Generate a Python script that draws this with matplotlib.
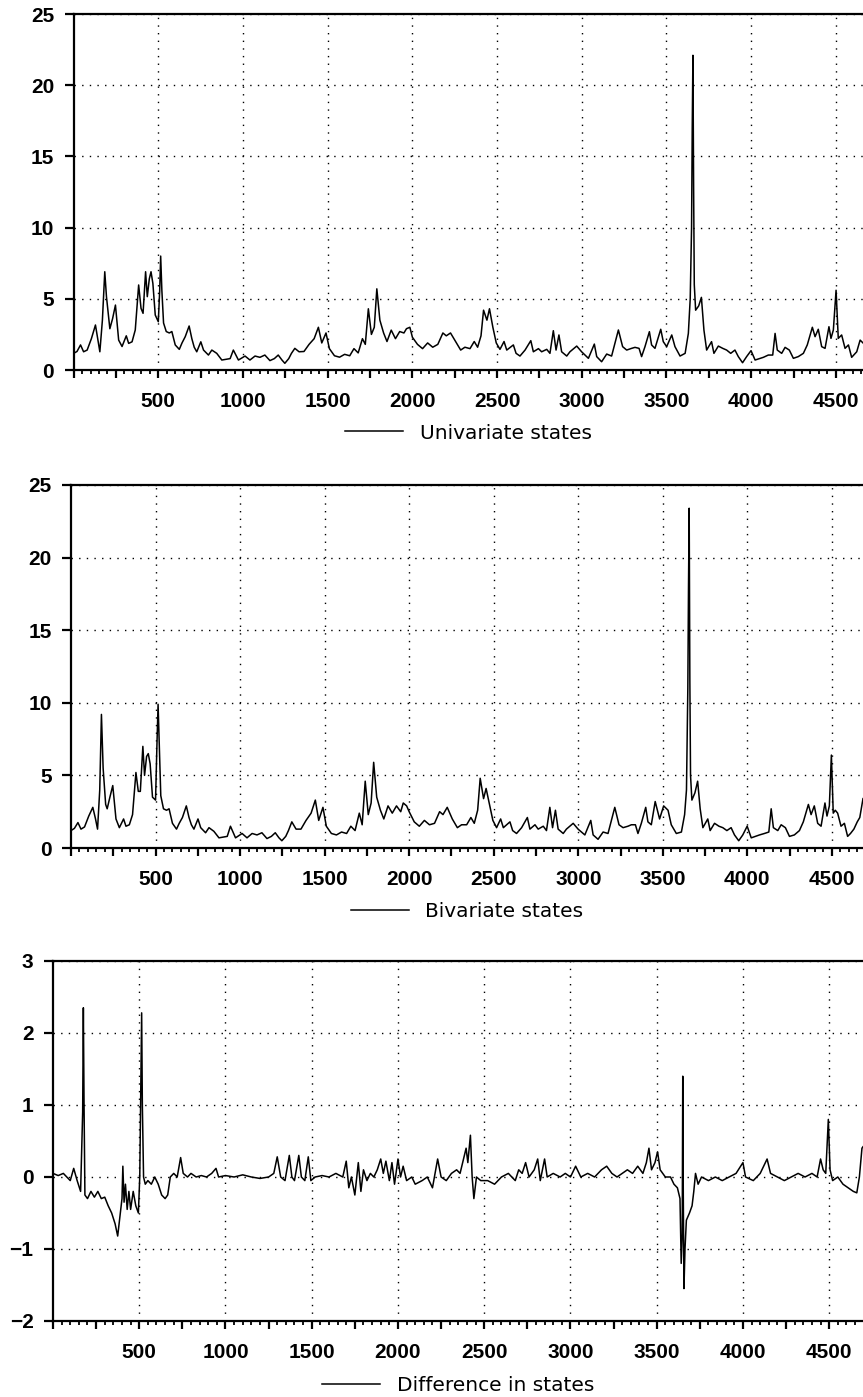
import numpy as np
import matplotlib
matplotlib.use("Agg")
import matplotlib.pyplot as plt
from matplotlib.ticker import MultipleLocator, FuncFormatter

# ─────────────────────────────────────────
# data read off the reference (x = observation, y = value)
# ─────────────────────────────────────────

uni_x = [0, 20, 41, 59, 80, 105, 129, 145, 155, 170, 184, 194, 214, 230, 247, 266, 286, 311, 325, 345,
         364, 384, 398, 410, 425, 435, 447, 457, 468, 482, 500, 508, 514, 521, 531, 547, 565, 580, 600, 624,
         640, 659, 682, 698, 712, 727, 751, 767, 796, 816, 845, 875, 900, 924, 943, 973, 1012, 1041, 1071, 1100,
         1129, 1159, 1185, 1208, 1230, 1247, 1270, 1286, 1306, 1331, 1360, 1390, 1420, 1445, 1465, 1490, 1510, 1540, 1570, 1600,
         1630, 1655, 1680, 1705, 1722, 1740, 1758, 1775, 1790, 1808, 1830, 1850, 1875, 1900, 1925, 1950, 1965, 1985, 2000, 2030,
         2060, 2090, 2120, 2150, 2180, 2200, 2225, 2255, 2285, 2310, 2340, 2365, 2385, 2405, 2420, 2440, 2455, 2475, 2495, 2517,
         2541, 2557, 2596, 2612, 2635, 2665, 2699, 2714, 2744, 2763, 2793, 2812, 2832, 2848, 2865, 2881, 2911, 2930, 2970, 2999,
         3039, 3074, 3088, 3117, 3147, 3176, 3216, 3241, 3265, 3294, 3314, 3338, 3353, 3373, 3399, 3412, 3432, 3466, 3481, 3501,
         3531, 3550, 3580, 3610, 3629, 3640, 3648, 3652, 3656, 3660, 3664, 3672, 3690, 3706, 3721, 3737, 3766, 3780, 3806, 3832,
         3855, 3879, 3904, 3924, 3949, 3973, 3999, 4023, 4072, 4101, 4127, 4141, 4154, 4180, 4200, 4225, 4249, 4278, 4308, 4331,
         4361, 4377, 4396, 4416, 4436, 4459, 4471, 4485, 4501, 4514, 4534, 4554, 4574, 4593, 4623, 4643, 4660]
uni_y = [1.17, 1.3, 1.76, 1.28, 1.4, 2.2, 3.16, 2.0, 1.28, 3.5, 6.9, 5.15, 2.9, 3.6, 4.56, 2.1, 1.65, 2.4, 1.87, 1.98,
         2.81, 5.97, 4.33, 3.98, 6.9, 5.15, 6.4, 6.9, 6.08, 3.86, 3.39, 5.5, 8.0, 5.6, 3.3, 2.7, 2.6, 2.7, 1.76, 1.45,
         1.9, 2.34, 3.09, 2.2, 1.6, 1.28, 1.98, 1.4, 1.05, 1.4, 1.17, 0.7, 0.75, 0.8, 1.4, 0.7, 0.98, 0.7, 0.98, 0.89,
         1.05, 0.66, 0.8, 1.05, 0.7, 0.47, 0.8, 1.17, 1.52, 1.28, 1.3, 1.8, 2.2, 3.0, 1.9, 2.6, 1.5, 1.0, 0.9, 1.1,
         1.0, 1.5, 1.2, 2.2, 1.8, 4.3, 2.5, 3.0, 5.7, 3.5, 2.6, 2.0, 2.8, 2.2, 2.7, 2.6, 2.9, 3.0, 2.3, 1.8,
         1.5, 1.9, 1.6, 1.8, 2.6, 2.4, 2.6, 2.0, 1.4, 1.6, 1.5, 2.0, 1.6, 2.4, 4.2, 3.5, 4.3, 3.0, 1.9, 1.45,
         2.0, 1.4, 1.76, 1.17, 0.98, 1.4, 2.06, 1.28, 1.5, 1.28, 1.45, 1.17, 2.76, 1.4, 2.46, 1.28, 0.98, 1.28, 1.68, 1.28,
         0.82, 1.82, 0.94, 0.58, 1.12, 0.98, 2.81, 1.64, 1.4, 1.52, 1.59, 1.52, 0.94, 1.64, 2.69, 1.76, 1.52, 2.86, 1.99, 1.64,
         2.46, 1.64, 0.98, 1.17, 2.57, 5.0, 10.0, 17.0, 22.1, 13.0, 6.0, 4.2, 4.5, 5.1, 2.8, 1.4, 1.99, 1.17, 1.68, 1.52,
         1.4, 1.17, 1.4, 0.94, 0.51, 0.94, 1.36, 0.7, 0.89, 1.05, 1.05, 2.57, 1.4, 1.17, 1.59, 1.4, 0.82, 0.94, 1.17, 1.76,
         3.0, 2.34, 2.86, 1.64, 1.52, 3.04, 2.22, 2.81, 5.6, 2.22, 2.46, 1.52, 1.76, 0.89, 1.28, 2.1, 1.9]

biv_x = [0, 20, 41, 59, 80, 105, 129, 145, 157, 170, 180, 190, 205, 214, 230, 247, 266, 286, 311, 325,
         345, 364, 384, 398, 410, 425, 435, 447, 457, 468, 482, 500, 508, 515, 521, 531, 547, 565, 580, 600,
         624, 640, 659, 682, 698, 712, 727, 751, 767, 796, 816, 845, 875, 900, 924, 943, 973, 1012, 1041, 1071,
         1100, 1129, 1159, 1185, 1208, 1230, 1247, 1270, 1286, 1306, 1331, 1360, 1390, 1420, 1445, 1465, 1490, 1510, 1540, 1570,
         1600, 1630, 1655, 1680, 1705, 1722, 1740, 1758, 1775, 1790, 1808, 1830, 1850, 1875, 1900, 1925, 1950, 1965, 1985, 2000,
         2030, 2060, 2090, 2120, 2150, 2180, 2200, 2225, 2255, 2285, 2310, 2340, 2365, 2385, 2405, 2420, 2440, 2455, 2475, 2495,
         2517, 2541, 2557, 2596, 2612, 2635, 2665, 2699, 2714, 2744, 2763, 2793, 2812, 2832, 2848, 2865, 2881, 2911, 2930, 2970,
         2999, 3039, 3074, 3088, 3117, 3147, 3176, 3216, 3241, 3265, 3294, 3314, 3338, 3353, 3373, 3399, 3412, 3432, 3455, 3481,
         3505, 3531, 3550, 3580, 3610, 3629, 3640, 3648, 3652, 3656, 3660, 3664, 3672, 3690, 3706, 3721, 3737, 3766, 3780, 3806,
         3832, 3855, 3879, 3904, 3924, 3949, 3973, 3999, 4023, 4072, 4101, 4127, 4141, 4154, 4180, 4200, 4225, 4249, 4278, 4308,
         4331, 4361, 4377, 4396, 4416, 4436, 4459, 4471, 4485, 4497, 4508, 4520, 4534, 4554, 4574, 4593, 4610, 4630, 4650, 4665,
         4684]
biv_y = [1.2, 1.35, 1.75, 1.3, 1.45, 2.2, 2.8, 2.0, 1.3, 4.0, 9.2, 5.5, 3.0, 2.7, 3.5, 4.3, 2.0, 1.4, 2.0, 1.5,
         1.6, 2.3, 5.2, 3.9, 3.9, 7.0, 5.0, 6.3, 6.5, 5.8, 3.5, 3.3, 7.0, 9.9, 7.5, 3.6, 2.7, 2.6, 2.7, 1.7,
         1.3, 1.7, 2.1, 2.9, 2.1, 1.6, 1.3, 2.0, 1.4, 1.05, 1.4, 1.15, 0.7, 0.75, 0.8, 1.5, 0.7, 1.0, 0.7, 1.0,
         0.9, 1.05, 0.65, 0.8, 1.05, 0.7, 0.5, 0.8, 1.2, 1.8, 1.3, 1.3, 1.9, 2.4, 3.3, 1.9, 2.8, 1.5, 1.0, 0.9,
         1.1, 1.0, 1.5, 1.2, 2.4, 1.6, 4.6, 2.3, 3.1, 5.9, 3.5, 2.6, 2.0, 2.9, 2.4, 2.9, 2.5, 3.1, 2.9, 2.5,
         1.8, 1.5, 1.9, 1.6, 1.7, 2.5, 2.3, 2.8, 2.0, 1.4, 1.6, 1.6, 2.1, 1.7, 2.6, 4.8, 3.4, 4.1, 3.0, 1.9,
         1.4, 2.0, 1.4, 1.8, 1.2, 1.0, 1.4, 2.1, 1.3, 1.6, 1.3, 1.5, 1.2, 2.8, 1.4, 2.6, 1.3, 1.0, 1.3, 1.7,
         1.3, 0.9, 1.9, 0.9, 0.6, 1.1, 1.0, 2.8, 1.6, 1.4, 1.5, 1.6, 1.6, 1.0, 1.7, 2.8, 1.8, 1.6, 3.2, 2.0,
         2.9, 2.6, 1.6, 1.0, 1.1, 2.3, 4.0, 11.0, 18.0, 23.4, 11.5, 5.0, 3.3, 3.8, 4.6, 2.7, 1.4, 2.0, 1.2, 1.7,
         1.5, 1.4, 1.2, 1.4, 0.9, 0.5, 0.9, 1.5, 0.7, 0.9, 1.0, 1.1, 2.7, 1.4, 1.2, 1.6, 1.4, 0.8, 0.9, 1.2,
         1.8, 3.0, 2.3, 2.9, 1.7, 1.5, 3.1, 2.2, 2.9, 6.4, 2.4, 2.6, 2.4, 1.5, 1.7, 0.8, 1.0, 1.3, 1.8, 2.1,
         3.4]

dif_x = [0, 30, 60, 80, 100, 120, 140, 160, 172, 176, 180, 185, 200, 220, 240, 260, 280, 300, 320, 340,
         360, 375, 390, 400, 405, 412, 420, 430, 440, 450, 465, 480, 495, 503, 510, 514, 518, 525, 535, 550,
         570, 590, 610, 630, 650, 665, 680, 700, 720, 740, 755, 780, 800, 830, 860, 890, 920, 945, 960, 1000,
         1050, 1100, 1150, 1200, 1250, 1280, 1300, 1320, 1345, 1370, 1385, 1400, 1425, 1440, 1460, 1480, 1495, 1520, 1560, 1600,
         1640, 1680, 1700, 1715, 1730, 1750, 1770, 1785, 1800, 1820, 1840, 1860, 1880, 1900, 1915, 1930, 1950, 1965, 1980, 2000,
         2015, 2030, 2050, 2080, 2100, 2140, 2170, 2200, 2230, 2250, 2280, 2310, 2340, 2360, 2380, 2395, 2405, 2420, 2430, 2440,
         2455, 2480, 2520, 2560, 2600, 2640, 2680, 2700, 2720, 2740, 2760, 2790, 2810, 2825, 2850, 2865, 2900, 2940, 2970, 3000,
         3030, 3060, 3100, 3140, 3180, 3210, 3240, 3270, 3300, 3330, 3360, 3390, 3420, 3440, 3455, 3470, 3490, 3505, 3520, 3550,
         3580, 3600, 3620, 3635, 3642, 3648, 3651, 3654, 3658, 3664, 3672, 3690, 3705, 3715, 3725, 3740, 3760, 3800, 3840, 3880,
         3920, 3960, 4000, 4015, 4060, 4100, 4140, 4160, 4200, 4240, 4280, 4320, 4360, 4400, 4430, 4450, 4465, 4480, 4495, 4505,
         4520, 4550, 4580, 4610, 4640, 4660, 4675, 4690, 4696]
dif_y = [0.05, 0.02, 0.05, 0.0, -0.05, 0.12, -0.05, -0.2, 0.9, 2.35, 1.0, -0.25, -0.3, -0.2, -0.28, -0.2, -0.3, -0.28, -0.4, -0.5,
         -0.65, -0.82, -0.5, -0.3, 0.15, -0.35, -0.1, -0.45, -0.2, -0.45, -0.2, -0.4, -0.5, 0.0, 1.5, 2.28, 1.0, 0.0, -0.1, -0.05,
         -0.1, 0.0, -0.1, -0.25, -0.3, -0.25, 0.0, 0.05, 0.0, 0.27, 0.05, 0.0, 0.05, 0.0, 0.02, 0.0, 0.05, 0.12, 0.0, 0.02,
         0.0, 0.03, 0.0, -0.02, 0.0, 0.05, 0.28, 0.0, -0.05, 0.3, 0.0, -0.05, 0.3, 0.0, -0.05, 0.28, -0.05, 0.0, 0.02, 0.0,
         0.05, 0.0, 0.22, -0.15, 0.0, -0.25, 0.2, -0.2, 0.1, -0.05, 0.05, 0.0, 0.1, 0.25, 0.05, 0.22, -0.05, 0.2, -0.1, 0.25,
         0.0, 0.15, -0.05, 0.0, -0.1, -0.05, 0.0, -0.15, 0.25, 0.0, -0.05, 0.05, 0.1, 0.05, 0.25, 0.4, 0.2, 0.58, 0.0, -0.3,
         0.0, -0.05, -0.05, -0.1, 0.0, 0.05, -0.05, 0.1, 0.05, 0.2, 0.0, 0.1, 0.25, -0.05, 0.25, 0.0, 0.05, 0.0, 0.05, 0.0,
         0.15, 0.0, 0.05, 0.0, 0.1, 0.15, 0.05, 0.0, 0.05, 0.1, 0.05, 0.15, 0.05, 0.2, 0.4, 0.1, 0.2, 0.35, 0.1, 0.0,
         0.0, -0.1, -0.15, -0.3, -1.2, -0.8, 1.4, -0.2, -1.55, -1.0, -0.6, -0.5, -0.4, -0.2, 0.05, -0.1, 0.0, -0.05, 0.0, -0.05,
         0.0, 0.05, 0.2, 0.0, -0.05, 0.05, 0.25, 0.05, 0.0, -0.05, 0.0, 0.05, 0.0, 0.05, 0.0, 0.25, 0.1, 0.05, 0.8, 0.1,
         -0.05, 0.0, -0.1, -0.15, -0.2, -0.22, 0.0, 0.4, 0.42]

LABELS = ["Univariate states", "Bivariate states", "Difference in states"]

# ─────────────────────────────────────────
# style
# ─────────────────────────────────────────

W, H = 863, 1397
TICK_FONT = {"family": "Liberation Sans", "weight": "bold", "size": 15}
LEG_FONT = {"family": "DejaVu Sans", "size": 14.5}


def _px_axes(left, top, bottom):
    """pixel box -> figure fraction (axes run to the right edge)"""
    return [left / W, 1 - bottom / H, 1 - left / W, (bottom - top) / H]


def _xlabel(v, pos):
    return f"{int(round(v))}" if v > 0 and round(v) % 500 == 0 else ""


def style_panel(ax, xmax, ylim, leg_y):
    ax.set_xlim(0, xmax)
    ax.set_ylim(*ylim)
    for s in ("left", "bottom", "top"):
        ax.spines[s].set_linewidth(1.6)
    ax.spines["right"].set_visible(False)

    ax.xaxis.set_major_locator(MultipleLocator(250))
    ax.xaxis.set_minor_locator(MultipleLocator(50))
    ax.xaxis.set_major_formatter(FuncFormatter(_xlabel))
    ax.yaxis.set_major_locator(MultipleLocator(5 if ylim[1] > 5 else 1))

    ax.tick_params(axis="x", which="major", direction="out", length=6, width=1.6, pad=9.5)
    ax.tick_params(axis="x", which="minor", direction="out", length=3.2, width=1.3)
    ax.tick_params(axis="y", which="major", direction="out", length=6.5, width=1.6, pad=7.5)
    ax.tick_params(axis="y", which="minor", left=False)
    for t in ax.get_xticklabels() + ax.get_yticklabels():
        t.set_fontproperties(TICK_FONT)

    grid = dict(color="black", linewidth=1.0, linestyle=(0, (1, 4.5)), zorder=1)
    ax.yaxis.grid(True, **grid)
    for gx in np.arange(500, xmax, 500):
        ax.axvline(gx, **grid)

    ax.legend(loc="center", bbox_to_anchor=(0.5, leg_y), frameon=False, prop=LEG_FONT,
              handlelength=2.9, handletextpad=0.8, borderpad=0, borderaxespad=0)


fig = plt.figure(figsize=(W / 100, H / 100), dpi=100)

ax1 = fig.add_axes(_px_axes(73.6, 14, 370))
ax1.plot(uni_x, uni_y, color="black", linewidth=1.1, label=LABELS[0], zorder=3)
style_panel(ax1, 4660, (0, 25), -0.177)

ax2 = fig.add_axes(_px_axes(71, 485, 848))
ax2.plot(biv_x, biv_y, color="black", linewidth=1.1, label=LABELS[1], zorder=3)
style_panel(ax2, 4684, (0, 25), -0.175)

ax3 = fig.add_axes(_px_axes(53, 961, 1321))
ax3.plot(dif_x, dif_y, color="black", linewidth=1.1, label=LABELS[2], zorder=3)
style_panel(ax3, 4696, (-2, 3), -0.178)

fig.savefig("out.png", dpi=100)
